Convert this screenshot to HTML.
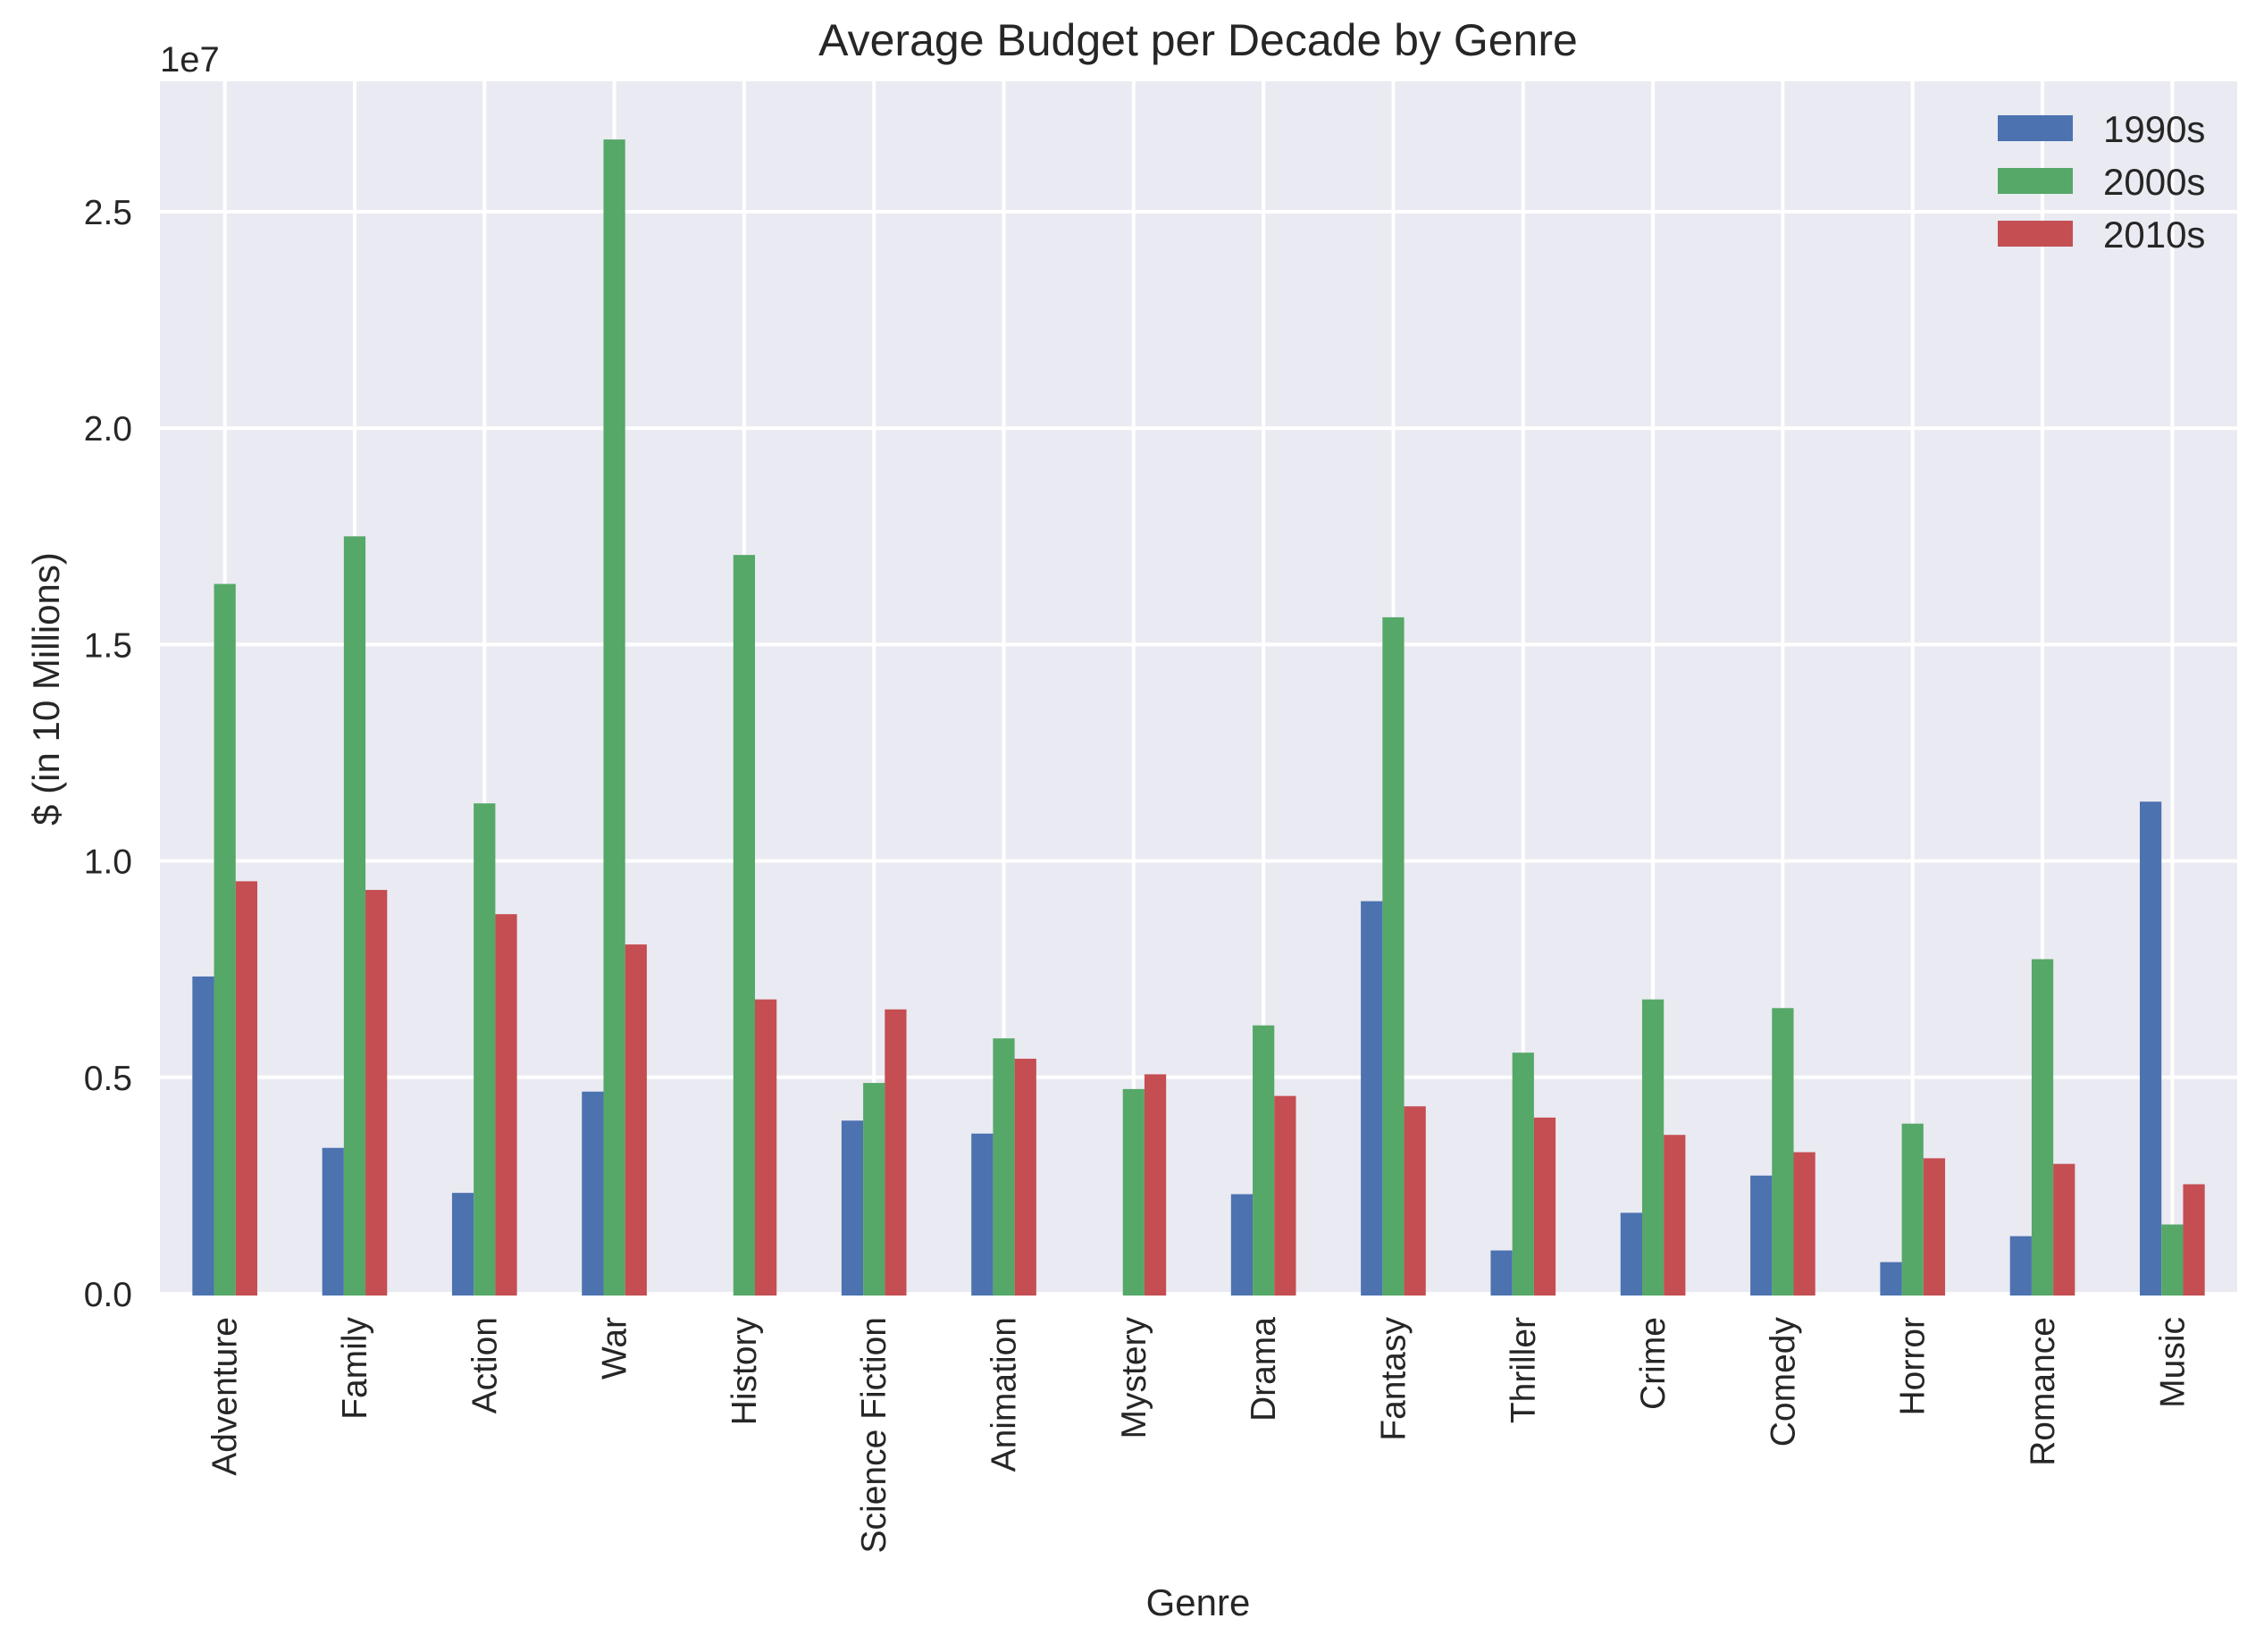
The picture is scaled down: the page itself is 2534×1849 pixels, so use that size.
<!DOCTYPE html>
<html><head><meta charset="utf-8"><style>
html,body{margin:0;padding:0;background:#fff;}
svg{display:block;font-family:"Liberation Sans",Arial,sans-serif;}
</style></head><body>
<svg id="chart" width="2534" height="1849" viewBox="0 0 2534 1849" xmlns="http://www.w3.org/2000/svg">
<rect x="0" y="0" width="2534" height="1849" fill="#ffffff"/>
<rect x="179" y="91" width="2325" height="1357" fill="#eaeaf2"/>
<g id="grid"></g>
<g id="bars"></g>
<g id="ticks"></g>
<text x="1341" y="62" font-size="50" fill="#262626" text-anchor="middle">Average Budget per Decade by Genre</text>
<text x="179" y="80" font-size="40" fill="#262626">1e7</text>
<text transform="translate(66,771) rotate(-90)" font-size="42" fill="#262626" text-anchor="middle">$ (in 10 Millions)</text>
<text x="1341" y="1808" font-size="42" fill="#262626" text-anchor="middle">Genre</text>
<g id="legend"></g>
</svg>
<script>
const categories = ["Adventure","Family","Action","War","History","Science Fiction","Animation","Mystery","Drama","Fantasy","Thriller","Crime","Comedy","Horror","Romance","Music"];
const seriesNames = ["1990s","2000s","2010s"];
const values1990s = [7.33,3.37,2.33,4.67,0,4.0,3.7,0,2.3,9.07,1.0,1.87,2.73,0.73,1.33,11.37];
const values2000s = [16.4,17.5,11.33,26.67,17.07,4.87,5.9,4.73,6.2,15.63,5.57,6.8,6.6,3.93,7.73,1.6];
const values2010s = [9.53,9.33,8.77,8.07,6.8,6.57,5.43,5.07,4.57,4.33,4.07,3.67,3.27,3.13,3.0,2.53];
const yTicks = [0,5,10,15,20,25];
const yTickLabels = ["0.0","0.5","1.0","1.5","2.0","2.5"];
const colors = ["#4c72b0","#55a868","#c44e52"];
const series = [values1990s, values2000s, values2010s];
const NS = "http://www.w3.org/2000/svg";
const L = 179, R = 2504, T = 91, B = 1448;
const n = categories.length;
const step = (R - L) / n;
function xPos(i){ return L + step * (i + 0.5); }
function yPos(v){ return B - v * 48.44; }
const barW = step * 0.5 / 3;
function mk(tag, attrs, parent){ const e=document.createElementNS(NS,tag); for(const k in attrs) e.setAttribute(k,attrs[k]); parent.appendChild(e); return e; }
const grid = document.getElementById('grid');
const bars = document.getElementById('bars');
const ticks = document.getElementById('ticks');
yTicks.forEach((t,i)=>{
  const y = yPos(t);
  const g = mk('line',{x1:L,x2:R,y1:y,y2:y,stroke:'#ffffff','stroke-width':4},grid);
  
  
  const tx = mk('text',{x:148,y:y+14,'font-size':39,fill:'#262626','text-anchor':'end'},ticks);
  tx.textContent = yTickLabels[i];
  
  
});
categories.forEach((c,i)=>{
  const x = xPos(i);
  const g = mk('line',{x1:x,x2:x,y1:T,y2:B,stroke:'#ffffff','stroke-width':4},grid);
  
  
  series.forEach((vals,s)=>{
    if (vals[i] <= 0) return;
    const bx = x - 1.5*barW + s*barW;
    const y = yPos(vals[i]);
    const r = mk('rect',{x:bx,y:y,width:barW,height:B-y+2,fill:colors[s]},bars);
    
    
  });
  const tx = mk('text',{transform:`translate(${x+13},1474) rotate(-90)`,'font-size':39,fill:'#262626','text-anchor':'end'},ticks);
  tx.textContent = c;
  
  
});
const legend = document.getElementById('legend');
seriesNames.forEach((nm,s)=>{
  const y = 129 + s*59;
  const r = mk('rect',{x:2236,y:y,width:84,height:29,fill:colors[s]},legend);
  
  
  const t = mk('text',{x:2354,y:y+30,'font-size':42,fill:'#262626'},legend);
  t.textContent = nm;
  
  
});
</script>
</body></html>
